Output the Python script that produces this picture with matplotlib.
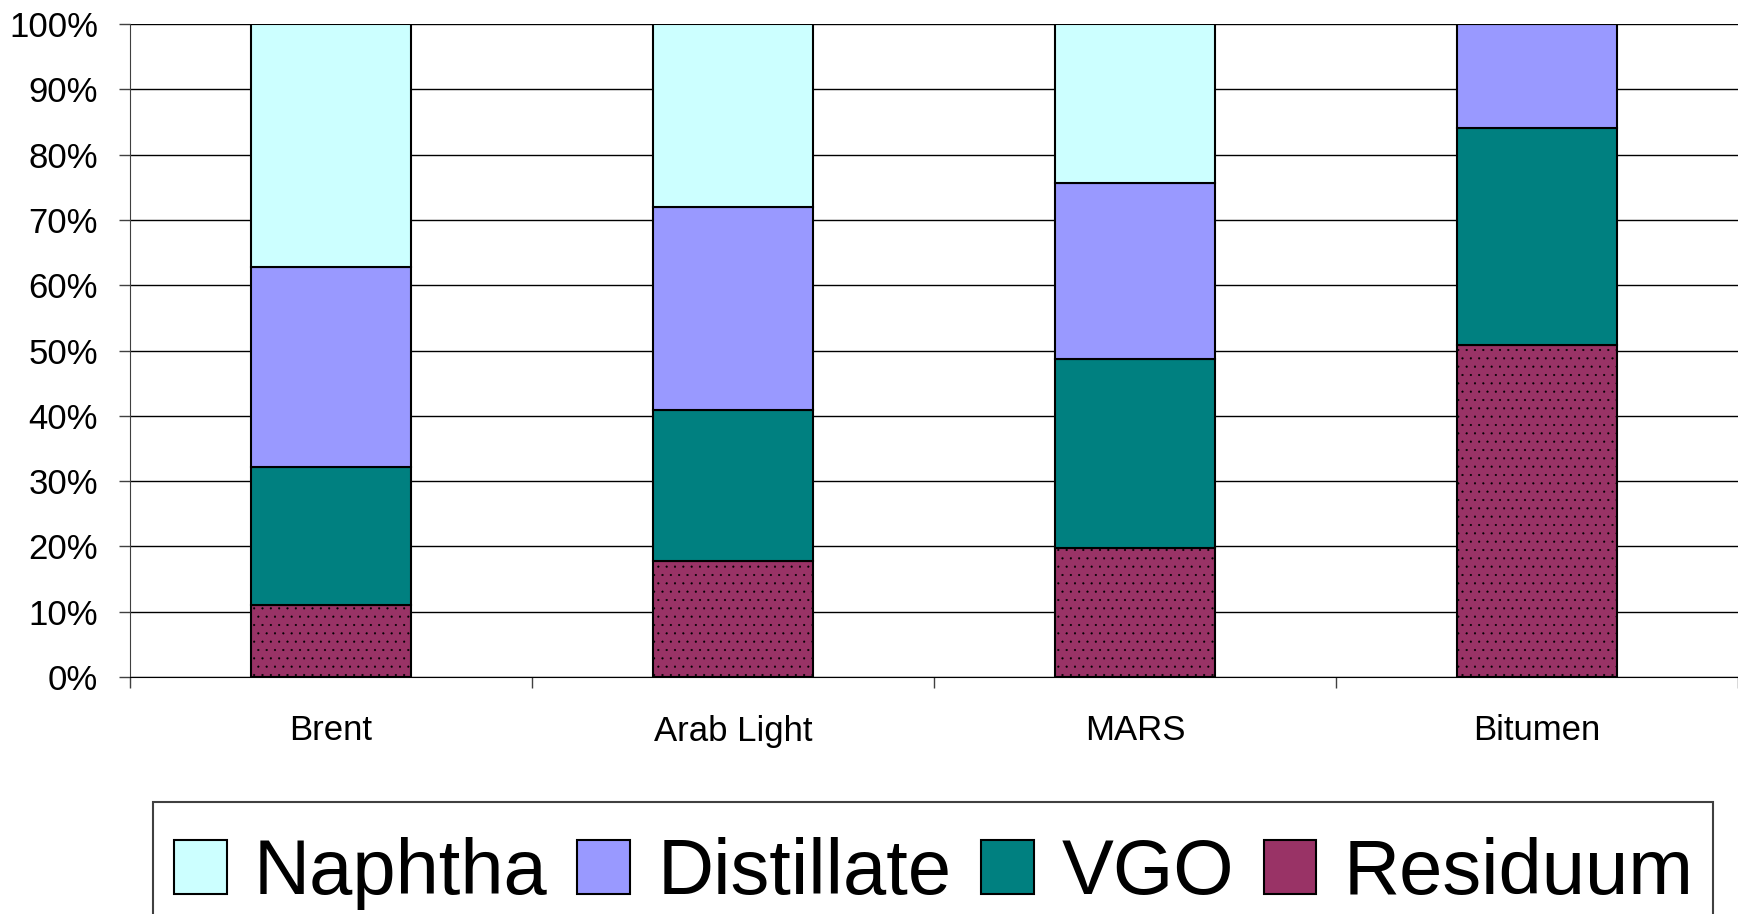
import numpy as np
import matplotlib
matplotlib.use("Agg")
import matplotlib.pyplot as plt
from matplotlib.patches import Patch, Rectangle

# crude slates, share of each cut (%)
crudes = ["Brent", "Arab Light", "MARS", "Bitumen"]
residuum = [11.0, 17.8, 19.7, 50.9]
vgo = [21.1, 23.1, 29.0, 33.1]
distillate = [30.7, 31.1, 27.0, 16.0]
naphtha = [37.2, 28.0, 24.3, 0.0]

cut_names = ["Residuum", "VGO", "Distillate", "Naphtha"]
cut_colors = ["#993366", "#008080", "#9999FF", "#CCFFFF"]

plt.rcParams['font.family'] = ['Liberation Sans', 'DejaVu Sans']
plt.rcParams['hatch.linewidth'] = 0.3

W, H = 1738, 914
fig = plt.figure(figsize=(W / 100, H / 100), dpi=100)
ax = fig.add_axes([130 / W, 1 - 677 / H, 1608 / W, 653 / H])

x = np.arange(len(crudes))
bottom = np.zeros(len(crudes))
for name, vals, col in zip(cut_names, [residuum, vgo, distillate, naphtha], cut_colors):
    vals = np.array(vals)
    ax.bar(x, vals, 0.4, bottom=bottom, color=col, edgecolor="black",
           linewidth=1.5, hatch=".." if name == "Residuum" else None, zorder=3)
    bottom += vals

ax.set_ylim(0, 100)
ax.set_xlim(-0.5, 3.478)
ax.set_yticks(np.arange(0, 101, 10))
ax.set_yticklabels([f"{v}%" for v in range(0, 101, 10)])
ax.yaxis.grid(True, color="black", linewidth=1.0, zorder=0)
ax.set_axisbelow(True)

# boundaries get tick marks, labels sit at the middle
ax.set_xticks(np.arange(-0.5, 4.0, 1.0))
ax.set_xticklabels([])
ax.set_xticks(x, minor=True)
ax.set_xticklabels(crudes, minor=True)
ax.tick_params(axis="x", which="major", length=8, width=1, color="#404040")
ax.tick_params(axis="x", which="minor", length=0, pad=27, labelsize=25)
ax.tick_params(axis="y", length=8, width=1, color="#404040", pad=15, labelsize=25)

for s in ["top", "right"]:
    ax.spines[s].set_visible(False)
ax.spines["left"].set_color("#404040")
ax.spines["bottom"].set_color("black")
ax.spines["bottom"].set_zorder(4)

# legend box runs off the bottom of the picture
box = Rectangle((153 / W, -0.05), (1713 - 153) / W, (H - 802) / H + 0.05,
                transform=fig.transFigure, facecolor="white",
                edgecolor="#404040", linewidth=1.5)
fig.add_artist(box)

handles = [Patch(facecolor=c, edgecolor="black", linewidth=1.5, label=n)
           for n, c in zip(cut_names[::-1], cut_colors[::-1])]
leg = fig.legend(handles=handles, loc="upper left", ncol=4,
                 bbox_to_anchor=(174 / W, 1 - 837 / H), borderaxespad=0,
                 fontsize=56, handlelength=0.68, handleheight=0.69,
                 handletextpad=0.35, columnspacing=0.38, borderpad=0,
                 frameon=False)

fig.savefig("out.png", dpi=100)
